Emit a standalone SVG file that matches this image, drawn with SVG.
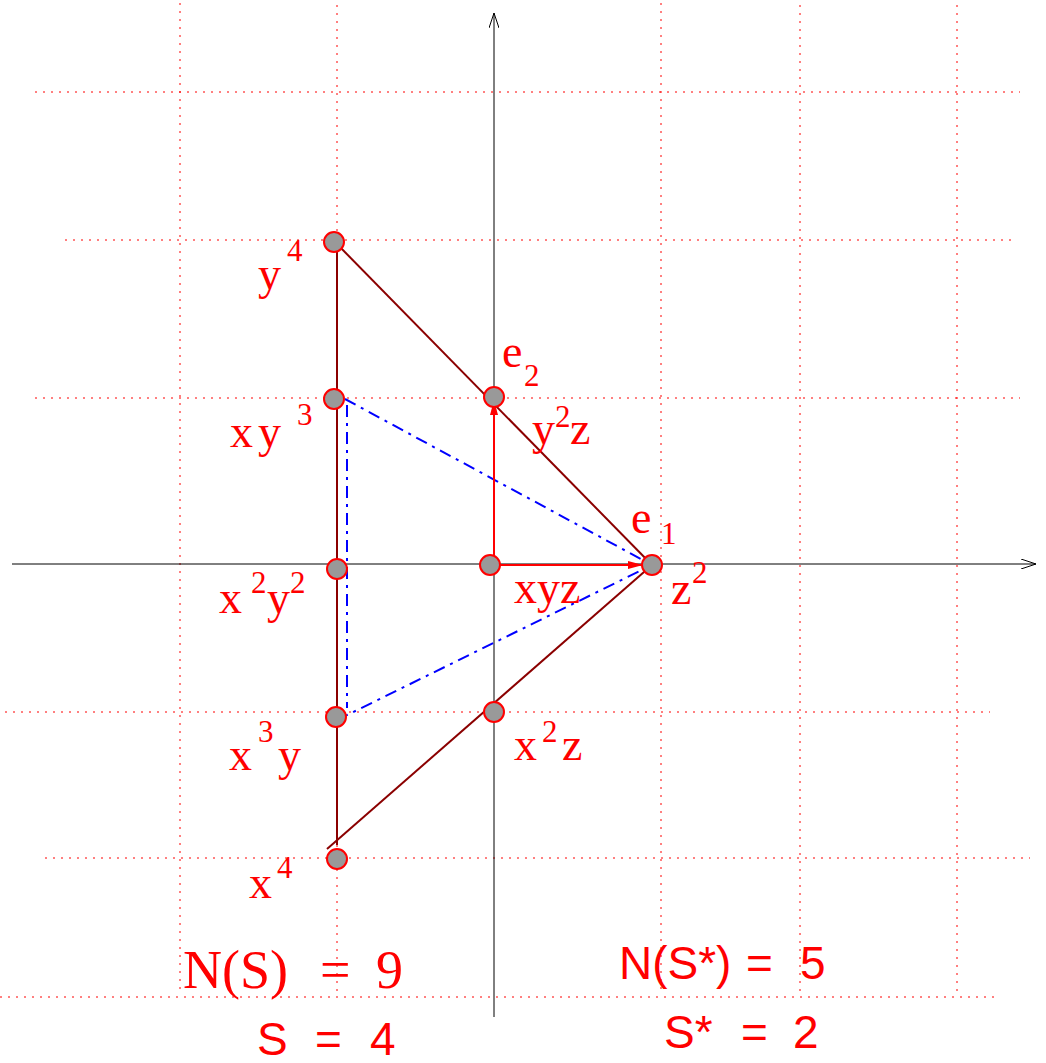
<svg xmlns="http://www.w3.org/2000/svg" width="1046" height="1063" viewBox="0 0 1046 1063">
<style>
.grid{stroke:#ff0000;stroke-width:1;stroke-dasharray:2,6;fill:none}
.axis{stroke:#000;stroke-width:1;fill:none}
.brown{stroke:#8b0000;stroke-width:2;fill:none}
.blue{stroke:#0000ff;stroke-width:2;fill:none;stroke-dasharray:12,6,3,6}
.red{stroke:#ff0000;stroke-width:2;fill:none}
.node{fill:#999999;stroke:#ff0000;stroke-width:2}
.lbl{fill:#ff0000;font-family:"Liberation Serif",serif;font-size:46px}
.sup{fill:#ff0000;font-family:"Liberation Serif",serif;font-size:31px}
.big{fill:#ff0000;font-family:"Liberation Serif",serif;font-size:54px}
.sans{fill:#ff0000;font-family:"Liberation Sans",sans-serif;font-size:46px}
</style>
<defs>
<marker id="openArrow" markerWidth="16" markerHeight="10" refX="15" refY="5" orient="auto" markerUnits="userSpaceOnUse">
<path d="M0,0 L15,5 L0,10" fill="none" stroke="#000" stroke-width="1"/>
</marker>
<marker id="redArrow" markerWidth="16" markerHeight="10" refX="15" refY="5" orient="auto" markerUnits="userSpaceOnUse">
<path d="M0,1 L15,5 L0,9 Z" fill="#ff0000" stroke="none"/>
</marker>
</defs>
<g id="grid">
<line class="grid" x1="35" y1="92" x2="1020" y2="92"/>
<line class="grid" x1="65" y1="240" x2="1015" y2="240"/>
<line class="grid" x1="35" y1="398" x2="1020" y2="398"/>
<line class="grid" x1="5" y1="712" x2="990" y2="712"/>
<line class="grid" x1="45" y1="858" x2="1030" y2="858"/>
<line class="grid" x1="0" y1="997" x2="1000" y2="997"/>
<line class="grid" x1="180" y1="3" x2="180" y2="990"/>
<line class="grid" x1="337" y1="5" x2="337" y2="995"/>
<line class="grid" x1="661" y1="3" x2="661" y2="995"/>
<line class="grid" x1="800" y1="5" x2="800" y2="995"/>
<line class="grid" x1="957" y1="5" x2="957" y2="995"/>
</g>
<g id="connectors">
<line class="axis" x1="494" y1="1017" x2="494" y2="13" marker-end="url(#openArrow)"/>
<line class="axis" x1="12" y1="564" x2="1036" y2="564" marker-end="url(#openArrow)"/>
<line class="brown" x1="337" y1="242" x2="337" y2="845"/>
<line class="brown" x1="336" y1="243" x2="652" y2="565"/>
<line class="brown" x1="652" y1="565" x2="327" y2="849"/>
<polyline class="blue" points="345,399 652,565"/>
<polyline class="blue" points="347,405 347,708"/>
<polyline class="blue" points="337,720 652,565"/>
<line class="red" x1="494" y1="565" x2="494" y2="400" marker-end="url(#redArrow)"/>
<line class="red" x1="494" y1="565" x2="643" y2="565" marker-end="url(#redArrow)"/>
</g>
<g id="node-y4"><circle class="node" cx="334" cy="242" r="10"/><text class="lbl" x="258" y="289">y</text><text class="sup" x="287" y="261">4</text></g>
<g id="node-xy3"><circle class="node" cx="334" cy="399" r="10"/><text class="lbl" x="230" y="447">x</text><text class="lbl" x="258" y="447">y</text><text class="sup" x="297" y="425">3</text></g>
<g id="node-x2y2"><circle class="node" cx="337" cy="569" r="10"/><text class="lbl" x="219" y="613">x</text><text class="sup" x="251" y="593">2</text><text class="lbl" x="267" y="613">y</text><text class="sup" x="290" y="593">2</text></g>
<g id="node-x3y"><circle class="node" cx="336" cy="717" r="10"/><text class="lbl" x="229" y="770">x</text><text class="sup" x="258" y="742">3</text><text class="lbl" x="278" y="770">y</text></g>
<g id="node-x4"><circle class="node" cx="337" cy="859" r="10"/><text class="lbl" x="249" y="898">x</text><text class="sup" x="277" y="878">4</text></g>
<g id="node-y2z"><circle class="node" cx="494" cy="397" r="10"/><text class="lbl" x="502" y="367">e</text><text class="sup" x="524" y="386">2</text><text class="lbl" x="532" y="444">y</text><text class="sup" x="555" y="427">2</text><text class="lbl" x="570" y="444">z</text></g>
<g id="node-xyz"><circle class="node" cx="490" cy="565" r="10"/><text class="lbl" x="514" y="603">xyz</text></g>
<g id="node-z2"><circle class="node" cx="652" cy="565" r="10"/><text class="lbl" x="631" y="533">e</text><text class="sup" x="661" y="544">1</text><text class="lbl" x="671" y="604">z</text><text class="sup" x="692" y="583">2</text></g>
<g id="node-x2z"><circle class="node" cx="494" cy="712" r="10"/><text class="lbl" x="514" y="760">x</text><text class="sup" x="542" y="742">2</text><text class="lbl" x="562" y="760">z</text></g>
<g id="labels">
<text class="big" x="183" y="988">N(S)</text><text class="big" x="320" y="988">=</text><text class="big" x="376" y="988">9</text>
<text class="sans" x="257" y="1055">S</text><text class="sans" x="315" y="1055">=</text><text class="sans" x="370" y="1055">4</text>
<text class="sans" x="619" y="979">N(S*)</text><text class="sans" x="746" y="979">=</text><text class="sans" x="800" y="979">5</text>
<text class="sans" x="664" y="1048">S*</text><text class="sans" x="741" y="1048">=</text><text class="sans" x="793" y="1048">2</text>
</g>
</svg>
